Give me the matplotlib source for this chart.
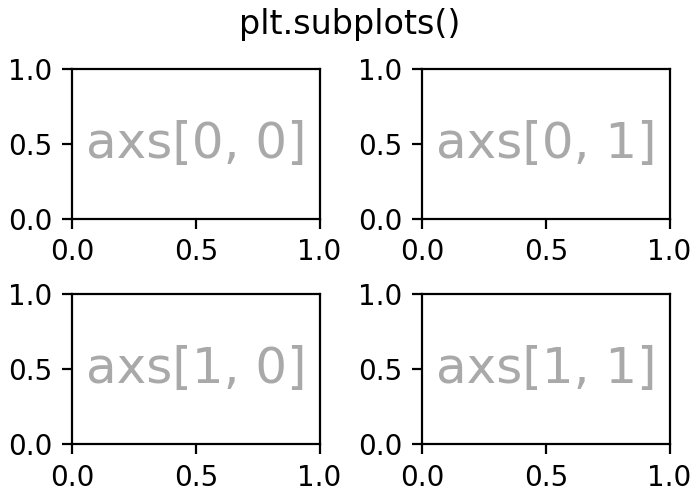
import matplotlib
matplotlib.use("Agg")
import matplotlib.pyplot as plt

# panel labels
labels = [["axs[0, 0]", "axs[0, 1]"], ["axs[1, 0]", "axs[1, 1]"]]
title = "plt.subplots()"


def annotate_axes(ax, text, fontsize=18):
    ax.text(0.5, 0.5, text, transform=ax.transAxes,
            ha="center", va="center", fontsize=fontsize, color="darkgrey")


fig, axs = plt.subplots(ncols=2, nrows=2, figsize=(3.5, 2.5), layout="constrained")
for row in range(2):
    for col in range(2):
        annotate_axes(axs[row, col], labels[row][col], fontsize=18)
fig.suptitle(title)

fig.savefig("out.png", dpi=200)
